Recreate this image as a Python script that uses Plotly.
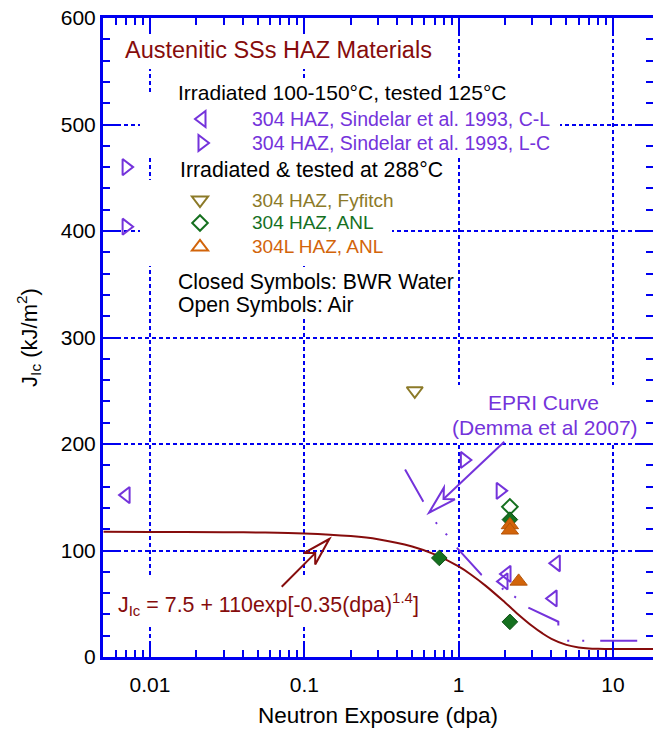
import plotly.graph_objects as go

# ---------------- data ----------------
# 304 HAZ, Sindelar et al. 1993, C-L  (open left triangles, air)
cl_x = [0.007, 2.06, 1.97, 4.3, 4.1]
cl_y = [152, 78, 71, 88, 55]
# 304 HAZ, Sindelar et al. 1993, L-C  (open right triangles, air)
lc_x = [0.007, 0.007, 1.09, 1.86]
lc_y = [460, 404, 185, 156]
# 304 HAZ, Fyfitch (open down triangle)
fy_x = [0.52]
fy_y = [250]
# 304 HAZ, ANL (open diamond = air, closed = BWR water)
anl_air_x = [2.15]
anl_air_y = [141]
anl_bwr_x = [0.75, 2.15, 2.15]
anl_bwr_y = [93, 129, 33]
# 304L HAZ, ANL (closed up triangles, BWR water)
anlL_bwr_x = [2.15, 2.15, 2.45]
anlL_bwr_y = [124, 119, 71]
# EPRI curve (Demma et al 2007)
epri_x = [0.45, 0.59, 0.72, 0.84, 0.98, 1.41, 2.38, 2.76, 4.43, 4.43, 20]
epri_y = [176, 146, 125.5, 114.6, 102.3, 77, 55.4, 47.2, 33.1, 15.3, 15.3]
# J_Ic = 7.5 + 110exp[-0.35(dpa)^1.4]
fit_x = [0.005, 0.01, 0.03, 0.05, 0.1, 0.2, 0.3, 0.5, 0.7, 1.0, 1.2, 1.5, 2.0,
         2.5, 3.0, 3.5, 4.0, 5.0, 6.0, 7.0, 8.0, 10.0, 20.0]
fit_y = [117.5, 117.4, 117.2, 116.9, 116.0, 113.5, 110.6, 103.8, 96.4, 85.0, 77.5,
         66.8, 51.2, 38.6, 29.1, 22.1, 17.1, 11.4, 9.0, 8.0, 7.7, 7.5, 7.5]
# ticks
x_tickvals = [0.01, 0.1, 1, 10]
x_ticktext = ["0.01", "0.1", "1", "10"]
y_tickvals = [0, 100, 200, 300, 400, 500, 600]

# ---------------- styles ----------------
W, H = 653, 731
ML, MR, MT, MB = 103, 0, 18, 74
PW, PH = W - ML - MR, H - MT - MB
XR = [-2.3046, 1.26]
YR = [0, 600]
BLUE = "#0000F0"
PURPLE = "#7433DB"
OLIVE = "#8C7A28"
GREEN = "#15701F"
ORANGE = "#D2640A"
DARKRED = "#860C0C"
FONT = "Liberation Sans, Arial, sans-serif"


def px(x):
    return (x - ML) / PW


def py(y):
    return (H - MB - y) / PH


fig = go.Figure()

fig.add_trace(go.Scatter(x=fit_x, y=fit_y, mode="lines", line=dict(color=DARKRED, width=2, shape="spline"),
                         name="fit", hoverinfo="skip"))
fig.add_trace(go.Scatter(x=epri_x, y=epri_y, mode="lines",
                         line=dict(color=PURPLE, width=2, dash="37px,24px,2px,13px,2px,16px"),
                         name="EPRI Curve"))

mk_line = 2
fig.add_trace(go.Scatter(x=cl_x, y=cl_y, mode="markers", name="304 HAZ, Sindelar et al. 1993, C-L",
                         marker=dict(symbol="triangle-left-open", size=14, color=PURPLE,
                                     line=dict(color=PURPLE, width=mk_line))))
fig.add_trace(go.Scatter(x=lc_x, y=lc_y, mode="markers", name="304 HAZ, Sindelar et al. 1993, L-C",
                         marker=dict(symbol="triangle-right-open", size=14, color=PURPLE,
                                     line=dict(color=PURPLE, width=mk_line))))
fig.add_trace(go.Scatter(x=fy_x, y=fy_y, mode="markers", name="304 HAZ, Fyfitch",
                         marker=dict(symbol="triangle-down-open", size=14, color=OLIVE,
                                     line=dict(color=OLIVE, width=mk_line))))
fig.add_trace(go.Scatter(x=anl_air_x, y=anl_air_y, mode="markers", name="304 HAZ, ANL (air)",
                         marker=dict(symbol="diamond-open", size=12, color=GREEN,
                                     line=dict(color=GREEN, width=mk_line))))
fig.add_trace(go.Scatter(x=anl_bwr_x, y=anl_bwr_y, mode="markers", name="304 HAZ, ANL (BWR)",
                         marker=dict(symbol="diamond", size=12, color=GREEN,
                                     line=dict(color="#0E4F16", width=1))))
fig.add_trace(go.Scatter(x=anlL_bwr_x, y=anlL_bwr_y, mode="markers", name="304L HAZ, ANL (BWR)",
                         marker=dict(symbol="triangle-up", size=15, color=ORANGE,
                                     line=dict(color="#B55408", width=1))))

# ---------------- masks hiding the grid behind text blocks ----------------
masks = [
    (112, 34, 447, 69),
    (170, 80, 505, 104),
    (140, 92, 560, 155),
    (170, 156, 447, 181),
    (140, 180, 392, 266),
    (155, 270, 456, 318),
    (447, 385, 645, 443),
    (110, 575, 425, 627),
]
shapes = []
for x0, y0, x1, y1 in masks:
    shapes.append(dict(type="rect", xref="paper", yref="paper", layer="above",
                       x0=px(x0), x1=px(x1), y0=py(y1), y1=py(y0),
                       fillcolor="white", line=dict(width=0)))


def poly(points, color):
    path = "M " + " L ".join("{},{}".format(px(a), py(b)) for a, b in points) + " Z"
    return dict(type="path", xref="paper", yref="paper", path=path, layer="above",
                line=dict(color=color, width=2), fillcolor="rgba(0,0,0,0)")


# key symbols of the hand-drawn legend (same geometry as plotly's marker symbols)
R = 7.0
RT = R * 2 / 3 ** 0.5
RD = 6.0 * 1.3


def key(kind, cx, cy, color):
    if kind == "left":
        pts = [(cx + R / 2, cy - RT), (cx + R / 2, cy + RT), (cx - R, cy)]
    elif kind == "right":
        pts = [(cx - R / 2, cy - RT), (cx - R / 2, cy + RT), (cx + R, cy)]
    elif kind == "down":
        pts = [(cx - RT, cy - R / 2), (cx + RT, cy - R / 2), (cx, cy + R)]
    elif kind == "up":
        pts = [(cx - RT, cy + R / 2), (cx + RT, cy + R / 2), (cx, cy - R)]
    else:
        pts = [(cx, cy - RD), (cx + RD, cy), (cx, cy + RD), (cx - RD, cy)]
    return poly(pts, color)


shapes.append(key("left", 202, 119, PURPLE))
shapes.append(key("right", 202, 143, PURPLE))
shapes.append(key("down", 200, 200, OLIVE))
shapes.append(key("diamond", 200, 223, GREEN))
shapes.append(key("up", 200, 247, ORANGE))


def arrow(tail, tip, b1, notch, b2, color):
    line = dict(type="line", xref="paper", yref="paper", layer="above",
                x0=px(tail[0]), y0=py(tail[1]), x1=px(notch[0]), y1=py(notch[1]),
                line=dict(color=color, width=2))
    return [line, poly([tip, b1, notch, b2], color)]


shapes += arrow((504.3, 441.7), (429, 512.7), (443.9, 487.7), (443.55, 499.0), (454.9, 499.3), PURPLE)
shapes += arrow((281.7, 586.7), (329.3, 539), (303.8, 553.1), (315.2, 553.1), (315.2, 564.5), DARKRED)

# ---------------- annotations ----------------
ann = []


def text(x, y, s, color="black", size=20, anchor="left"):
    ann.append(dict(x=px(x), y=py(y), xref="paper", yref="paper", text=s, showarrow=False,
                    xanchor=anchor, yanchor="middle", borderpad=0, borderwidth=0,
                    font=dict(family=FONT, size=size, color=color)))


text(125, 50, "Austenitic SSs HAZ Materials", DARKRED, 23.5)
text(178, 92, "Irradiated 100-150°C, tested 125°C", "black", 21)
text(252, 119, "304 HAZ, Sindelar et al. 1993, C-L", PURPLE, 19.5)
text(252, 143, "304 HAZ, Sindelar et al. 1993, L-C", PURPLE, 19.5)
text(180, 170, "Irradiated &amp; tested at 288°C", "black", 21.3)
text(252, 200, "304 HAZ, Fyfitch", OLIVE, 19)
text(252, 223, "304 HAZ, ANL", GREEN, 19)
text(252, 247, "304L HAZ, ANL", ORANGE, 19)
text(178, 282, "Closed Symbols: BWR Water", "black", 21.2)
text(178, 305, "Open Symbols: Air", "black", 21.2)
text(543, 402, "EPRI Curve", PURPLE, 21, "center")
text(545, 427, "(Demma et al 2007)", PURPLE, 21, "center")
text(118, 604, "J<sub>Ic</sub> = 7.5 + 110exp[-0.35(dpa)<sup>1.4</sup>]", DARKRED, 21.4)

fig.update_layout(
    width=W, height=H, margin=dict(l=ML, r=MR, t=MT, b=MB, pad=0, autoexpand=False),
    plot_bgcolor="white", paper_bgcolor="white", showlegend=False,
    font=dict(family=FONT, size=20, color="black"),
    shapes=shapes, annotations=ann,
    xaxis=dict(type="log", range=XR, tickmode="array",
               tickvals=x_tickvals, ticktext=x_ticktext, automargin=False,
               showline=True, linecolor=BLUE, linewidth=3, mirror="ticks",
               ticks="inside", ticklen=14, tickwidth=2, tickcolor=BLUE,
               showgrid=True, gridcolor=BLUE, gridwidth=2, griddash="4px,3px",
               zeroline=False, tickfont=dict(size=21, color="black"), ticklabelstandoff=7,
               minor=dict(ticks="inside", ticklen=7, tickwidth=2, tickcolor=BLUE, dtick="D1", showgrid=False),
               title=dict(text="Neutron Exposure (dpa)", font=dict(size=22.5), standoff=13)),
    yaxis=dict(range=YR, tickmode="array", tickvals=y_tickvals, automargin=False,
               showline=True, linecolor=BLUE, linewidth=3, mirror="ticks",
               ticks="inside", ticklen=14, tickwidth=2, tickcolor=BLUE,
               showgrid=True, gridcolor=BLUE, gridwidth=2, griddash="4px,3px",
               zeroline=False, tickfont=dict(size=21, color="black"),
               minor=dict(ticks="inside", ticklen=7, tickwidth=2, tickcolor=BLUE, dtick=20, showgrid=False),
               title=dict(text="J<sub>Ic</sub> (kJ/m<sup>2</sup>)", font=dict(size=22), standoff=18)),
)

fig.write_html("out.html", config={"displayModeBar": False},
               post_script="document.body.style.margin='0';document.body.style.padding='0';")
